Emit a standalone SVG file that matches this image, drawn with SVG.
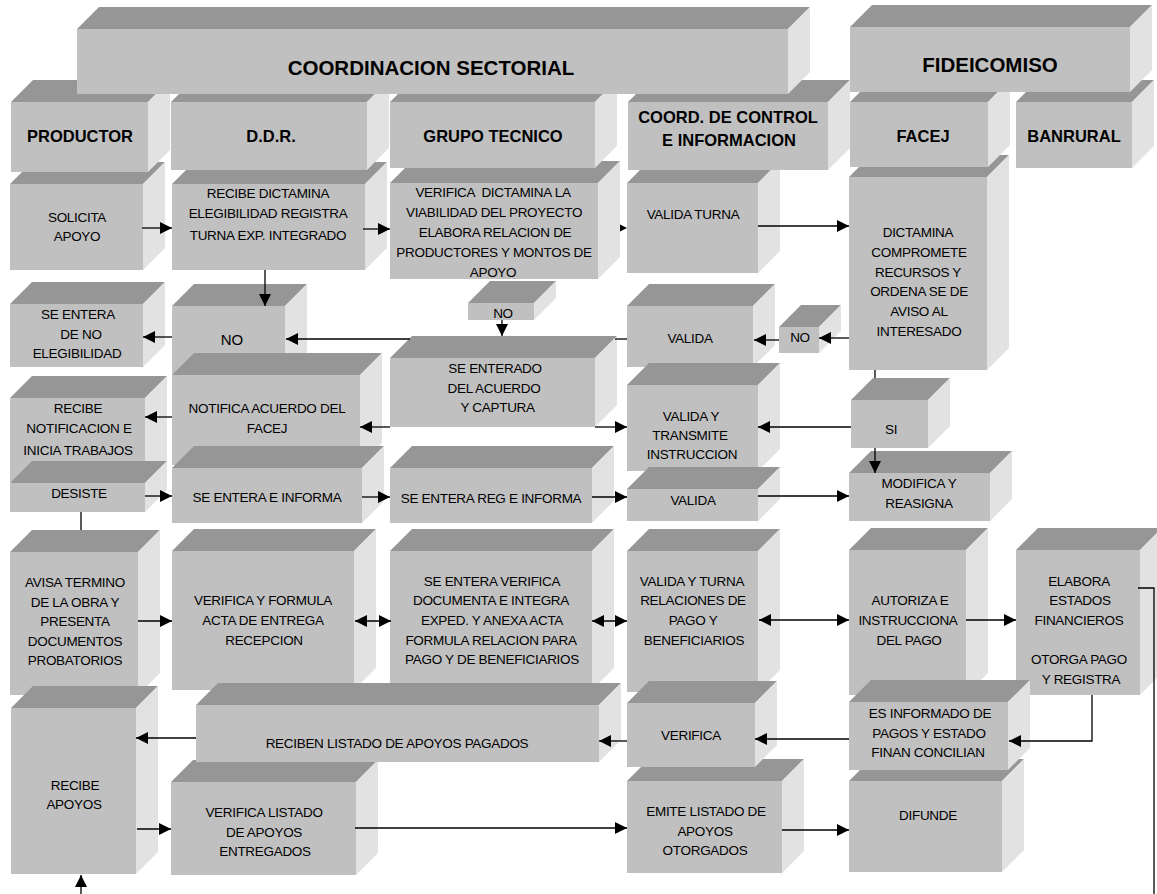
<svg xmlns="http://www.w3.org/2000/svg" width="1157" height="894" viewBox="0 0 1157 894">
<defs>
<style>
.f{fill:#C0C0C0}
.t{fill:#969696}
.s{fill:#E2E2E2}
text{font-family:"Liberation Sans",Arial,sans-serif;font-size:13.5px;letter-spacing:-0.3px;text-anchor:middle;fill:#000;white-space:pre}
.h{font-weight:bold;font-size:16.5px;letter-spacing:0}
.H{font-weight:bold;font-size:20.5px;letter-spacing:0}
.c line,.c polyline{stroke:#000;stroke-width:1.3;fill:none}
.a{marker-end:url(#ah)}
.b{marker-end:url(#ah);marker-start:url(#ah)}
</style>
<marker id="ah" viewBox="0 0 12 12" refX="12" refY="6" markerWidth="12" markerHeight="12" markerUnits="userSpaceOnUse" orient="auto-start-reverse"><path d="M0,0 L12,6 L0,12 z" fill="#000"/></marker>
</defs>
<rect width="1157" height="894" fill="#fff"/>

<g id="avisa"><rect class="f" x="10" y="552" width="128" height="143"/><polygon class="t" points="10,552 32,530 160,530 138,552"/><polygon class="s" points="138,552 160,530 160,673 138,695"/>
<text x="75" y="587">AVISA TERMINO</text><text x="75" y="607">DE LA OBRA Y</text><text x="75" y="626">PRESENTA</text><text x="75" y="646">DOCUMENTOS</text><text x="75" y="665">PROBATORIOS</text></g>
<g id="verifica-formula"><rect class="f" x="172" y="551" width="182" height="139"/><polygon class="t" points="172,551 194,529 376,529 354,551"/><polygon class="s" points="354,551 376,529 376,668 354,690"/>
<text x="263" y="605">VERIFICA Y FORMULA</text><text x="263" y="625">ACTA DE ENTREGA</text><text x="264" y="645">RECEPCION</text></g>
<g id="se-entera-verifica"><rect class="f" x="390" y="551" width="202" height="139"/><polygon class="t" points="390,551 412,529 614,529 592,551"/><polygon class="s" points="592,551 614,529 614,668 592,690"/>
<text x="492" y="586">SE ENTERA VERIFICA</text><text x="491" y="605">DOCUMENTA E INTEGRA</text><text x="492" y="625">EXPED. Y ANEXA ACTA</text><text x="491" y="645">FORMULA RELACION PARA</text><text x="492" y="664">PAGO Y DE BENEFICIARIOS</text></g>
<g id="valida-turna-rel"><rect class="f" x="627" y="551" width="131" height="141"/><polygon class="t" points="627,551 649,529 780,529 758,551"/><polygon class="s" points="758,551 780,529 780,670 758,692"/>
<text x="692" y="586">VALIDA Y TURNA</text><text x="693" y="605">RELACIONES DE</text><text x="693" y="625">PAGO Y</text><text x="694" y="645">BENEFICIARIOS</text></g>
<g id="autoriza"><rect class="f" x="849" y="550" width="117" height="145"/><polygon class="t" points="849,550 871,528 988,528 966,550"/><polygon class="s" points="966,550 988,528 988,673 966,695"/>
<text x="910" y="605">AUTORIZA E</text><text x="908" y="625">INSTRUCCIONA</text><text x="909" y="645">DEL PAGO</text></g>
<g id="elabora"><rect class="f" x="1016" y="550" width="124" height="145"/><polygon class="t" points="1016,550 1038,528 1162,528 1140,550"/><polygon class="s" points="1140,550 1162,528 1162,673 1140,695"/>
<text x="1079" y="586">ELABORA</text><text x="1080" y="605">ESTADOS</text><text x="1079" y="625">FINANCIEROS</text><text x="1079" y="664">OTORGA PAGO</text><text x="1081" y="684">Y REGISTRA</text></g>

<g id="verifica-listado"><rect class="f" x="171" y="782" width="185" height="93"/><polygon class="t" points="171,782 193,760 378,760 356,782"/><polygon class="s" points="356,782 378,760 378,853 356,875"/>
<text x="264" y="817">VERIFICA LISTADO</text><text x="264" y="837">DE APOYOS</text><text x="265" y="856">ENTREGADOS</text></g>
<g id="emite"><rect class="f" x="627" y="781" width="155" height="92"/><polygon class="t" points="627,781 649,759 804,759 782,781"/><polygon class="s" points="782,781 804,759 804,851 782,873"/>
<text x="706" y="816">EMITE LISTADO DE</text><text x="705" y="836">APOYOS</text><text x="705" y="855">OTORGADOS</text></g>
<g id="difunde"><rect class="f" x="849" y="781" width="153" height="91"/><polygon class="t" points="849,781 871,759 1024,759 1002,781"/><polygon class="s" points="1002,781 1024,759 1024,850 1002,872"/>
<text x="928" y="820">DIFUNDE</text></g>

<g id="recibe-apoyos"><rect class="f" x="11" y="708" width="125" height="166"/><polygon class="t" points="11,708 33,686 158,686 136,708"/><polygon class="s" points="136,708 158,686 158,852 136,874"/>
<text x="75" y="790">RECIBE</text><text x="74" y="809">APOYOS</text></g>
<g id="reciben-listado"><rect class="f" x="196" y="705" width="403" height="57"/><polygon class="t" points="196,705 218,683 621,683 599,705"/><polygon class="s" points="599,705 621,683 621,740 599,762"/>
<text x="397" y="748">RECIBEN LISTADO DE APOYOS PAGADOS</text></g>
<g id="verifica"><rect class="f" x="627" y="703" width="128" height="64"/><polygon class="t" points="627,703 649,681 777,681 755,703"/><polygon class="s" points="755,703 777,681 777,745 755,767"/>
<text x="691" y="740">VERIFICA</text></g>
<g id="es-informado"><rect class="f" x="849" y="702" width="159" height="68"/><polygon class="t" points="849,702 871,680 1030,680 1008,702"/><polygon class="s" points="1008,702 1030,680 1030,748 1008,770"/>
<text x="930" y="718">ES INFORMADO DE</text><text x="929" y="738">PAGOS Y ESTADO</text><text x="928" y="757">FINAN CONCILIAN</text></g>

<g id="solicita"><rect class="f" x="10" y="184" width="133" height="86"/><polygon class="t" points="10,184 32,162 165,162 143,184"/><polygon class="s" points="143,184 165,162 165,248 143,270"/>
<text x="77" y="222">SOLICITA</text><text x="77" y="241">APOYO</text></g>
<g id="recibe-dictamina"><rect class="f" x="172" y="184" width="193" height="86"/><polygon class="t" points="172,184 194,162 387,162 365,184"/><polygon class="s" points="365,184 387,162 387,248 365,270"/>
<text x="268" y="198">RECIBE DICTAMINA</text><text x="268" y="218">ELEGIBILIDAD REGISTRA</text><text x="268" y="240">TURNA EXP. INTEGRADO</text></g>
<g id="verifica-dictamina"><rect class="f" x="390" y="183" width="208" height="96"/><polygon class="t" points="390,183 412,161 620,161 598,183"/><polygon class="s" points="598,183 620,161 620,257 598,279"/>
<text x="493" y="197">VERIFICA  DICTAMINA LA</text><text x="494" y="217">VIABILIDAD DEL PROYECTO</text><text x="495" y="237">ELABORA RELACION DE</text><text x="494" y="257">PRODUCTORES Y MONTOS DE</text><text x="493" y="277">APOYO</text></g>
<g id="valida-turna"><rect class="f" x="627" y="183" width="131" height="90"/><polygon class="t" points="627,183 649,161 780,161 758,183"/><polygon class="s" points="758,183 780,161 780,251 758,273"/>
<text x="693" y="219">VALIDA TURNA</text></g>
<g id="dictamina"><rect class="f" x="849" y="177" width="138" height="193"/><polygon class="t" points="849,177 871,155 1009,155 987,177"/><polygon class="s" points="987,177 1009,155 1009,348 987,370"/>
<text x="918" y="237">DICTAMINA</text><text x="919" y="257">COMPROMETE</text><text x="918" y="277">RECURSOS Y</text><text x="919" y="296">ORDENA SE DE</text><text x="919" y="316">AVISO AL</text><text x="919" y="336">INTERESADO</text></g>

<g id="se-entera-no"><rect class="f" x="10" y="304" width="133" height="63"/><polygon class="t" points="10,304 32,282 165,282 143,304"/><polygon class="s" points="143,304 165,282 165,345 143,367"/>
<text x="78" y="319">SE ENTERA</text><text x="81" y="339">DE NO</text><text x="77" y="358">ELEGIBILIDAD</text></g>
<g id="no-ddr"><rect class="f" x="172" y="306" width="113" height="68"/><polygon class="t" points="172,306 194,284 307,284 285,306"/><polygon class="s" points="285,306 307,284 307,352 285,374"/>
<text x="232" y="345" style="font-size:15px;letter-spacing:0">NO</text></g>
<g id="no-grupo"><rect class="f" x="468" y="303" width="66" height="17"/><polygon class="t" points="468,303 490,281 556,281 534,303"/><polygon class="s" points="534,303 556,281 556,298 534,320"/>
<text x="503" y="318">NO</text></g>
<g id="se-enterado"><rect class="f" x="390" y="358" width="205" height="69"/><polygon class="t" points="390,358 412,336 617,336 595,358"/><polygon class="s" points="595,358 617,336 617,405 595,427"/>
<text x="495" y="373">SE ENTERADO</text><text x="494" y="393">DEL ACUERDO</text><text x="496" y="412"> Y CAPTURA</text></g>
<g id="valida-1"><rect class="f" x="627" y="306" width="126" height="61"/><polygon class="t" points="627,306 649,284 775,284 753,306"/><polygon class="s" points="753,306 775,284 775,345 753,367"/>
<text x="690" y="343">VALIDA</text></g>
<g id="no-facej"><rect class="f" x="779" y="327" width="40" height="26"/><polygon class="t" points="779,327 801,305 841,305 819,327"/><polygon class="s" points="819,327 841,305 841,331 819,353"/>
<text x="800" y="342">NO</text></g>
<g id="si"><rect class="f" x="851" y="400" width="77" height="48"/><polygon class="t" points="851,400 873,378 950,378 928,400"/><polygon class="s" points="928,400 950,378 950,426 928,448"/>
<text x="891" y="434">SI</text></g>

<g id="recibe-notificacion"><rect class="f" x="10" y="398" width="135" height="84"/><polygon class="t" points="10,398 32,376 167,376 145,398"/><polygon class="s" points="145,398 167,376 167,460 145,482"/>
<text x="78" y="413">RECIBE</text><text x="79" y="433">NOTIFICACION E</text><text x="78" y="455">INICIA TRABAJOS</text></g>
<g id="notifica"><rect class="f" x="172" y="375" width="188" height="90"/><polygon class="t" points="172,375 194,353 382,353 360,375"/><polygon class="s" points="360,375 382,353 382,443 360,465"/>
<text x="267" y="413">NOTIFICA ACUERDO DEL</text><text x="267" y="433">FACEJ</text></g>
<g id="valida-transmite"><rect class="f" x="627" y="385" width="131" height="86"/><polygon class="t" points="627,385 649,363 780,363 758,385"/><polygon class="s" points="758,385 780,363 780,449 758,471"/>
<text x="691" y="421">VALIDA Y</text><text x="690" y="440">TRANSMITE</text><text x="692" y="459">INSTRUCCION</text></g>
<g id="modifica"><rect class="f" x="849" y="473" width="141" height="48"/><polygon class="t" points="849,473 871,451 1012,451 990,473"/><polygon class="s" points="990,473 1012,451 1012,499 990,521"/>
<text x="919" y="488">MODIFICA Y</text><text x="919" y="508">REASIGNA</text></g>

<g id="desiste"><rect class="f" x="10" y="483" width="135" height="29"/><polygon class="t" points="10,483 32,461 167,461 145,483"/><polygon class="s" points="145,483 167,461 167,490 145,512"/>
<text x="79" y="498">DESISTE</text></g>
<g id="se-entera-informa"><rect class="f" x="172" y="468" width="190" height="55"/><polygon class="t" points="172,468 194,446 384,446 362,468"/><polygon class="s" points="362,468 384,446 384,501 362,523"/>
<text x="267" y="502">SE ENTERA E INFORMA</text></g>
<g id="se-entera-reg"><rect class="f" x="390" y="468" width="202" height="55"/><polygon class="t" points="390,468 412,446 614,446 592,468"/><polygon class="s" points="592,468 614,446 614,501 592,523"/>
<text x="491" y="503">SE ENTERA REG E INFORMA</text></g>
<g id="valida-2"><rect class="f" x="627" y="489" width="131" height="32"/><polygon class="t" points="627,489 649,467 780,467 758,489"/><polygon class="s" points="758,489 780,467 780,499 758,521"/>
<text x="693" y="505">VALIDA</text></g>

<g id="productor"><rect class="f" x="11" y="102" width="137" height="70"/><polygon class="t" points="11,102 33,80 170,80 148,102"/><polygon class="s" points="148,102 170,80 170,150 148,172"/>
<text class="h" x="80" y="142">PRODUCTOR</text></g>
<g id="ddr"><rect class="f" x="171" y="102" width="196" height="68"/><polygon class="t" points="171,102 193,80 389,80 367,102"/><polygon class="s" points="367,102 389,80 389,148 367,170"/>
<text class="h" x="271" y="142">D.D.R.</text></g>
<g id="grupo-tecnico"><rect class="f" x="390" y="102" width="205" height="66"/><polygon class="t" points="390,102 412,80 617,80 595,102"/><polygon class="s" points="595,102 617,80 617,146 595,168"/>
<text class="h" x="493" y="142">GRUPO TECNICO</text></g>
<g id="coord-control"><rect class="f" x="628" y="102" width="200" height="68"/><polygon class="t" points="628,102 650,80 850,80 828,102"/><polygon class="s" points="828,102 850,80 850,148 828,170"/>
<text class="h" x="728" y="123">COORD. DE CONTROL</text><text class="h" x="729" y="146">E INFORMACION</text></g>
<g id="facej"><rect class="f" x="850" y="102" width="138" height="65"/><polygon class="t" points="850,102 872,80 1010,80 988,102"/><polygon class="s" points="988,102 1010,80 1010,145 988,167"/>
<text class="h" x="923" y="142">FACEJ</text></g>
<g id="banrural"><rect class="f" x="1016" y="102" width="116" height="66"/><polygon class="t" points="1016,102 1038,80 1154,80 1132,102"/><polygon class="s" points="1132,102 1154,80 1154,146 1132,168"/>
<text class="h" x="1074" y="142">BANRURAL</text></g>
<g id="coordinacion-sectorial"><rect class="f" x="77" y="29" width="711" height="65"/><polygon class="t" points="77,29 99,7 810,7 788,29"/><polygon class="s" points="788,29 810,7 810,72 788,94"/>
<text class="H" x="431" y="75">COORDINACION SECTORIAL</text></g>
<g id="fideicomiso"><rect class="f" x="850" y="27" width="280" height="65"/><polygon class="t" points="850,27 872,5 1152,5 1130,27"/><polygon class="s" points="1130,27 1152,5 1152,70 1130,92"/>
<text class="H" x="990" y="72">FIDEICOMISO</text></g>

<g id="connectors" class="c">
<line class="a" x1="142" y1="228" x2="172" y2="228"/>
<line class="a" x1="363" y1="229" x2="390" y2="229"/>
<line class="a" x1="265" y1="270" x2="265" y2="306"/>
<polygon points="620,224.5 627,228 620,231.5" fill="#000"/>
<line class="a" x1="758" y1="226" x2="849" y2="226"/>
<line class="a" x1="172" y1="337" x2="143" y2="337"/>
<line x1="627" y1="339" x2="615" y2="339"/>
<line class="a" x1="410" y1="339" x2="286" y2="339"/>
<line class="a" x1="502" y1="320" x2="502" y2="336"/>
<line class="a" x1="849" y1="338" x2="819" y2="338"/>
<line class="a" x1="779" y1="340" x2="754" y2="340"/>
<line x1="875" y1="370" x2="875" y2="378"/>
<line class="a" x1="851" y1="427" x2="758" y2="427"/>
<line class="a" x1="875" y1="448" x2="875" y2="473"/>
<line class="a" x1="595" y1="427" x2="627" y2="427"/>
<line class="a" x1="390" y1="427" x2="360" y2="427"/>
<line class="a" x1="172" y1="417" x2="145" y2="417"/>
<line class="a" x1="145" y1="496" x2="172" y2="496"/>
<line class="a" x1="362" y1="497" x2="390" y2="497"/>
<line class="a" x1="592" y1="497" x2="627" y2="497"/>
<line class="a" x1="758" y1="496" x2="849" y2="496"/>
<line x1="81" y1="512" x2="81" y2="530"/>
<line class="a" x1="138" y1="621" x2="172" y2="621"/>
<line class="b" x1="355" y1="621" x2="391" y2="621"/>
<line class="b" x1="592" y1="621" x2="627" y2="621"/>
<line class="b" x1="759" y1="620" x2="849" y2="620"/>
<line class="a" x1="966" y1="620" x2="1016" y2="620"/>
<polyline points="1138,588 1154,588 1154,894"/>
<polyline class="a" points="1092,695 1092,741 1009,741"/>
<line class="a" x1="849" y1="739" x2="755" y2="739"/>
<line class="a" x1="627" y1="741" x2="599" y2="741"/>
<line class="a" x1="196" y1="738" x2="136" y2="738"/>
<line class="a" x1="137" y1="829" x2="171" y2="829"/>
<line class="a" x1="355" y1="828" x2="627" y2="828"/>
<line class="a" x1="782" y1="830" x2="849" y2="830"/>
<line class="a" x1="81" y1="894" x2="81" y2="875"/>
</g>
</svg>
